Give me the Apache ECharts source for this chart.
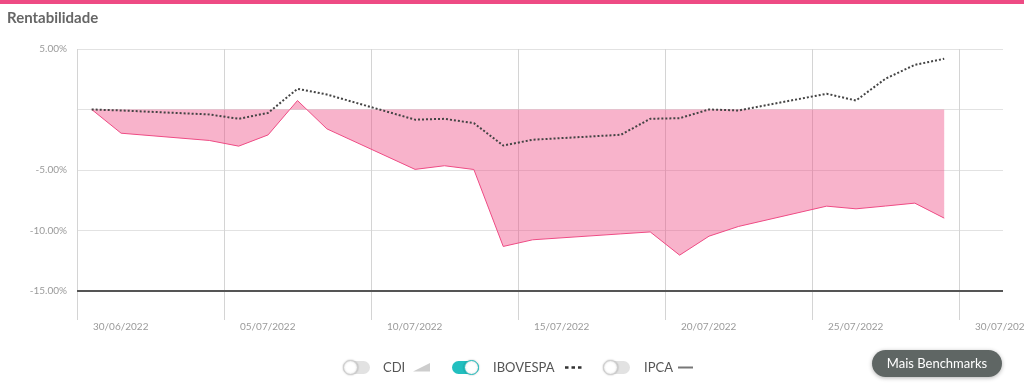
<!DOCTYPE html>
<html>
<head>
<meta charset="utf-8">
<script src="https://cdn.jsdelivr.net/npm/echarts@6/dist/echarts.min.js"></script>
<style>
html,body{margin:0;padding:0;background:#fff;}
#chart{width:1024px;height:386px;}
</style>
</head>
<body>
<div id="chart"></div>
<script>
// ---- data ----
const dates = ['30/06/2022','01/07/2022','04/07/2022','05/07/2022','06/07/2022','07/07/2022','08/07/2022',
  '11/07/2022','12/07/2022','13/07/2022','14/07/2022','15/07/2022','18/07/2022','19/07/2022','20/07/2022',
  '21/07/2022','22/07/2022','25/07/2022','26/07/2022','27/07/2022','28/07/2022','29/07/2022'];
const fundValues = [0,-1.96,-2.56,-3.03,-2.10,0.74,-1.60,-4.95,-4.65,-4.96,-11.32,-10.77,-10.28,-10.12,-12.04,
  -10.47,-9.67,-7.99,-8.21,-7.98,-7.74,-8.98];
const ibovValues = [0,-0.08,-0.41,-0.77,-0.28,1.71,1.24,-0.84,-0.77,-1.13,-2.98,-2.50,-2.09,-0.77,-0.72,
  0,-0.08,1.30,0.74,2.54,3.69,4.19];
const xTickLabels = ['30/06/2022','05/07/2022','10/07/2022','15/07/2022','20/07/2022','25/07/2022','30/07/2022'];
const yTickValues = [5,0,-5,-10,-15];
const yTickLabels = ['5.00%','','-5.00%','-10.00%','-15.00%'];
const legendNames = ['CDI','IBOVESPA','IPCA'];
const buttonLabel = 'Mais Benchmarks';
const titleText = 'Rentabilidade';

// day offset from first date
function dayIndex(s){
  const p = s.split('/').map(Number);
  const base = Date.UTC(2022,5,30);
  return (Date.UTC(p[2],p[1]-1,p[0]) - base)/86400000;
}
const fundData = dates.map((d,i)=>[dayIndex(d), fundValues[i]]);
const ibovData = dates.map((d,i)=>[dayIndex(d), ibovValues[i]]);

const FONT = 'Lato, "Open Sans", sans-serif';
const chart = echarts.init(document.getElementById('chart'), null, {renderer:'canvas'});

function toggle(x, on){
  return [
    {type:'rect', shape:{x:x, y:361, width:27, height:13, r:6.5},
      style:{fill: on ? '#22bfbf' : '#e2e2e2'}},
    {type:'circle', shape:{cx: on ? x+19.5 : x+7.5, cy:367.5, r:7},
      style:{fill:'#fff', stroke: on ? '#22bfbf' : '#cfcfcf', lineWidth:1,
        shadowBlur:2, shadowColor:'rgba(0,0,0,0.25)'}}
  ];
}
const legendText = (x, t) => ({type:'text', x:x, y:367.5,
  style:{text:t, fill:'#555', font:'13px ' + FONT, verticalAlign:'middle', align:'left'}});

chart.setOption({
  animation:false,
  title:{text:titleText, left:2, top:6,
    textStyle:{fontSize:15, fontWeight:'bold', color:'#666', fontFamily:FONT}},
  grid:{left:77, right:21, top:49, bottom:66, outerBoundsMode:'none', containLabel:false},
  xAxis:{
    type:'value', min:-0.5, max:31, interval:5,
    axisLine:{show:false}, axisTick:{show:false},
    splitLine:{show:true, showMaxLine:false, lineStyle:{color:'#d4d4d4', width:1}},
    axisLabel:{
      formatter:(v,i)=> xTickLabels[i] || '',
      showMaxLabel:false, hideOverlap:false,
      align:'left', padding:[0,0,0,16], margin:2,
      color:'#9a9a9a', fontSize:10, fontFamily:FONT
    }
  },
  yAxis:{
    type:'value', min:-17.4, max:5, splitNumber:5,
    axisLine:{show:false}, axisTick:{show:false},
    splitLine:{show:true, showMinLine:false, lineStyle:{color:'#e2e2e2', width:1}},
    axisLabel:{
      formatter:(v)=>{ const k = yTickValues.indexOf(Math.round(v*100)/100); return k>=0 ? yTickLabels[k] : ''; },
      showMinLabel:false, margin:10,
      color:'#9a9a9a', fontSize:10, fontFamily:FONT
    }
  },
  series:[
    {type:'line', name:'Fundo', data:fundData, symbol:'none', z:2,
      lineStyle:{color:'#ee4b84', width:1},
      areaStyle:{origin:0, color:'#ee4b84', opacity:0.42},
      markLine:{silent:true, symbol:'none', label:{show:false},
        lineStyle:{color:'#555', width:2, type:'solid'},
        data:[{yAxis:-15}]}
    },
    {type:'line', name:'IBOVESPA', data:ibovData, symbol:'none', z:3,
      lineStyle:{color:'#444', width:2, type:[2,2]}}
  ],
  graphic:[
    {type:'rect', shape:{x:0, y:0, width:1024, height:4}, style:{fill:'#ee4b84'}},
    ...toggle(343, false),
    legendText(383, legendNames[0]),
    {type:'polygon', shape:{points:[[413,371.5],[430,371.5],[430,363]]}, style:{fill:'#cdcdcd'}},
    ...toggle(452, true),
    legendText(493, legendNames[1]),
    {type:'line', shape:{x1:565, y1:367.5, x2:583, y2:367.5},
      style:{stroke:'#333', lineWidth:2.5, lineDash:[3.5,3]}},
    ...toggle(603, false),
    legendText(644, legendNames[2]),
    {type:'line', shape:{x1:678, y1:367.5, x2:693, y2:367.5}, style:{stroke:'#777', lineWidth:2}},
    {type:'rect', shape:{x:872, y:350, width:130, height:27, r:13.5},
      style:{fill:'#5f6664', shadowBlur:4, shadowOffsetY:1, shadowColor:'rgba(0,0,0,0.3)'}},
    {type:'text', x:937, y:363.5,
      style:{text:buttonLabel, fill:'#fff', font:'13px ' + FONT, align:'center', verticalAlign:'middle'}}
  ]
});
</script>
</body>
</html>
